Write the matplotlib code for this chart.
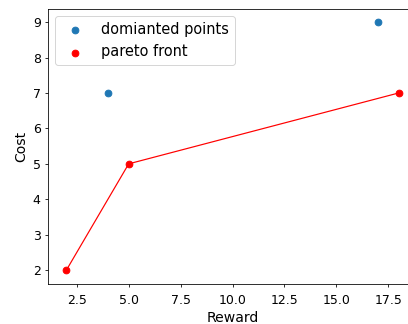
import matplotlib
matplotlib.use("Agg")
import matplotlib.pyplot as plt

dom_reward = [4, 17]
dom_cost = [7, 9]
pareto_reward = [2, 5, 18]
pareto_cost = [2, 5, 7]
x_ticks = [2.5, 5.0, 7.5, 10.0, 12.5, 15.0, 17.5]
y_ticks = [2, 3, 4, 5, 6, 7, 8, 9]

fig = plt.figure(figsize=(408/72, 324/72), dpi=72)
ax = fig.add_axes([0.1169, 0.1225, 0.906, 0.8497])
ax.scatter(dom_reward, dom_cost, s=45, color="#1f77b4", label="domianted points", zorder=3)
ax.scatter(pareto_reward, pareto_cost, s=45, color="red", label="pareto front", zorder=3)
ax.plot(pareto_reward, pareto_cost, color="red", linewidth=1.2)
ax.set_xlim(1.1, 18.9)
ax.set_ylim(1.6, 9.37)
ax.set_xticks(x_ticks)
ax.set_xticklabels([f"{t:.1f}" for t in x_ticks])
ax.set_yticks(y_ticks)
ax.set_xlabel("Reward", fontsize=14)
ax.set_ylabel("Cost", fontsize=14)
ax.tick_params(labelsize=12.5, length=3)
ax.tick_params(axis="x", pad=7)
ax.tick_params(axis="y", pad=4)
ax.legend(fontsize=14.5, loc="upper left")
fig.savefig("out.png", dpi=72)
